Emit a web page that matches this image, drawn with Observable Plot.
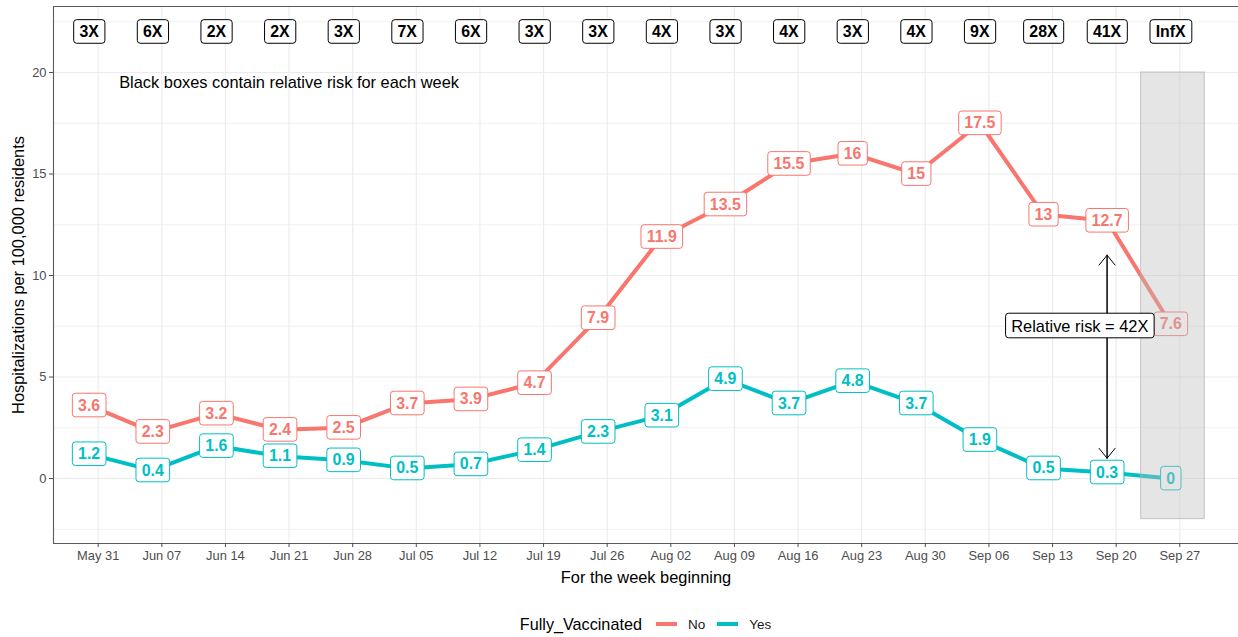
<!DOCTYPE html>
<html>
<head>
<meta charset="utf-8">
<script src="https://cdn.jsdelivr.net/npm/d3@7"></script>
<script src="https://cdn.jsdelivr.net/npm/@observablehq/plot@0.6"></script>
<style>
  body { margin: 0; background: #fff; font-family: "Liberation Sans", Arial, sans-serif; }
  #chart { position: relative; width: 1238px; height: 637px; background: #fff; }
  #legend { position: absolute; left: 53px; right: 0; top: 612px; height: 24px;
            display: flex; align-items: center; justify-content: center; color: #1a1a1a; }
  #legend .title { font-size: 16.2px; color: #000; margin-right: 14px; }
  #legend .sw { display: inline-block; width: 21px; height: 4px; margin-right: 11px; }
  #legend .item { font-size: 13.5px; margin-right: 12px; }
  #legend .item:last-child { margin-right: 0; }
</style>
</head>
<body>
<div id="chart"></div>
<script>
// ---- data ----
const weeks = ["2021-05-30","2021-06-06","2021-06-13","2021-06-20","2021-06-27","2021-07-04",
  "2021-07-11","2021-07-18","2021-07-25","2021-08-01","2021-08-08","2021-08-15",
  "2021-08-22","2021-08-29","2021-09-05","2021-09-12","2021-09-19","2021-09-26"];
const tickDates = ["2021-05-31","2021-06-07","2021-06-14","2021-06-21","2021-06-28","2021-07-05",
  "2021-07-12","2021-07-19","2021-07-26","2021-08-02","2021-08-09","2021-08-16",
  "2021-08-23","2021-08-30","2021-09-06","2021-09-13","2021-09-20","2021-09-27"];
const notVaccinated = [3.6, 2.3, 3.2, 2.4, 2.5, 3.7, 3.9, 4.7, 7.9, 11.9, 13.5, 15.5, 16, 15, 17.5, 13, 12.7, 7.6];
const vaccinated    = [1.2, 0.4, 1.6, 1.1, 0.9, 0.5, 0.7, 1.4, 2.3, 3.1, 4.9, 3.7, 4.8, 3.7, 1.9, 0.5, 0.3, 0];
const relativeRisk  = ["3X","6X","2X","2X","3X","7X","6X","3X","3X","4X","3X","4X","3X","4X","9X","28X","41X","InfX"];
const seriesNames = ["No", "Yes"];
const seriesColors = ["#F8766D", "#00BFC4"];
const yMajor = [0, 5, 10, 15, 20];
const yMinor = [-2.5, 2.5, 7.5, 12.5, 17.5, 22.5];
const xDomain = ["2021-05-26T02:00:00Z", "2021-10-03T11:00:00Z"];
const yDomain = [-3.2, 23.25];
const riskRowY = 22;
const noteText = "Black boxes contain relative risk for each week";
const noteAt = { date: "2021-06-21", y: 19.5 };
const arrowAt = { date: "2021-09-19", low: 1, high: 11 };
const rrText = "Relative risk = 42X";
const rrAt = { date: "2021-09-16", y: 7.5 };
const shade = { x1: "2021-09-22T18:00:00Z", x2: "2021-09-29T18:00:00Z", y1: -2, y2: 20 };
const xTitle = "For the week beginning";
const yTitle = "Hospitalizations per 100,000 residents";
const legendTitle = "Fully_Vaccinated";

// ---- build tables ----
const D = s => new Date(s);
const rows = [
  ...weeks.map((w, i) => ({ date: D(w), value: notVaccinated[i], group: seriesNames[0] })),
  ...weeks.map((w, i) => ({ date: D(w), value: vaccinated[i], group: seriesNames[1] }))
];
const riskRows = weeks.map((w, i) => ({ date: D(w), label: relativeRisk[i] }));
const xd = xDomain.map(D);
const font = '"Liberation Sans", Arial, sans-serif';
const frameColor = "#5a5a5a";
const gridColor = "#ebebeb";
const boldSize = 15.9, textSize = 16.4, tickSize = 12.9;

const plot = Plot.plot({
  width: 1238, height: 600,
  marginLeft: 53, marginRight: 0, marginTop: 6, marginBottom: 57,
  style: { fontFamily: font, fontSize: tickSize + "px", background: "#fff", overflow: "visible" },
  x: { type: "utc", domain: xd },
  y: { domain: yDomain },
  color: { domain: seriesNames, range: seriesColors },
  marks: [
    Plot.ruleY(yMinor, { stroke: gridColor, strokeWidth: 0.7 }),
    Plot.ruleY(yMajor, { stroke: gridColor, strokeWidth: 1.1 }),
    Plot.ruleX(tickDates.map(D), { stroke: gridColor, strokeWidth: 1.1 }),
    Plot.ruleX([xd[0]], { stroke: frameColor, strokeWidth: 1.1 }),
    Plot.ruleY([yDomain[0]], { stroke: frameColor, strokeWidth: 1.1 }),
    Plot.ruleY([yDomain[1]], { stroke: frameColor, strokeWidth: 1.1 }),
    Plot.axisX({ ticks: tickDates.map(D), tickFormat: d3.utcFormat("%b %d"), tickSize: 4, tickPadding: 3,
                 color: "#4d4d4d", fontSize: tickSize, label: null }),
    Plot.axisY({ ticks: yMajor, tickSize: 4, tickPadding: 3, color: "#4d4d4d", fontSize: tickSize, label: null }),
    Plot.line(rows, { x: "date", y: "value", stroke: "group", strokeWidth: 4 }),
    Plot.text(rows, { x: "date", y: "value", text: d => String(d.value), fill: "group",
                      fontWeight: "bold", fontSize: boldSize }),
    Plot.rect([shade], { x1: d => D(d.x1), x2: d => D(d.x2), y1: "y1", y2: "y2",
                         fill: "#bebebe", fillOpacity: 0.4, stroke: "#b0b0b0", strokeOpacity: 0.7 }),
    Plot.text(riskRows, { x: "date", y: () => riskRowY, text: "label", fill: "#000",
                          fontWeight: "bold", fontSize: boldSize }),
    Plot.text([noteAt], { x: d => D(d.date), y: "y", text: () => noteText, fill: "#000", fontSize: textSize }),
    Plot.arrow([{ a: arrowAt.low, b: arrowAt.high }, { a: arrowAt.high, b: arrowAt.low }],
               { x1: () => D(arrowAt.date), x2: () => D(arrowAt.date), y1: "a", y2: "b",
                 stroke: "#000", strokeWidth: 1, headLength: 19, headAngle: 78 }),
    Plot.text([rrAt], { x: d => D(d.date), y: "y", text: () => rrText, fill: "#000", fontSize: textSize }),
    Plot.text([xTitle], { frameAnchor: "bottom", lineAnchor: "middle", textAnchor: "middle", dy: 34,
                          fill: "#000", fontSize: textSize }),
    Plot.text([yTitle], { frameAnchor: "left", rotate: -90, textAnchor: "middle", lineAnchor: "middle", dx: -35,
                          fill: "#000", fontSize: textSize })
  ]
});

const chart = document.getElementById("chart");
chart.appendChild(plot);

// label boxes around text (geom_label style)
const textGroups = plot.querySelectorAll('g[aria-label="text"]');
const boxed = [0, 1, 3];
const NS = "http://www.w3.org/2000/svg";
boxed.forEach(gi => {
  const g = textGroups[gi];
  if (!g) return;
  g.querySelectorAll("text").forEach(t => {
    const bb = t.getBBox();
    const padX = 5.7, padY = 3.8;
    const r = document.createElementNS(NS, "rect");
    r.setAttribute("x", bb.x - padX);
    r.setAttribute("y", bb.y - padY + 0.5);
    r.setAttribute("width", bb.width + 2 * padX);
    r.setAttribute("height", bb.height + 2 * padY - 1);
    r.setAttribute("rx", 3);
    r.setAttribute("fill", "#fff");
    const c = t.getAttribute("fill") || g.getAttribute("fill") || "#000";
    r.setAttribute("stroke", c);
    r.setAttribute("stroke-width", 1);
    if (t.getAttribute("transform")) r.setAttribute("transform", t.getAttribute("transform"));
    g.insertBefore(r, t);
  });
});

// legend
const legend = document.createElement("div");
legend.id = "legend";
const lt = document.createElement("span");
lt.className = "title"; lt.textContent = legendTitle;
legend.appendChild(lt);
seriesNames.forEach((n, i) => {
  const sw = document.createElement("span");
  sw.className = "sw"; sw.style.background = seriesColors[i];
  legend.appendChild(sw);
  const tx = document.createElement("span");
  tx.className = "item"; tx.textContent = n;
  legend.appendChild(tx);
});
chart.appendChild(legend);
</script>
</body>
</html>
